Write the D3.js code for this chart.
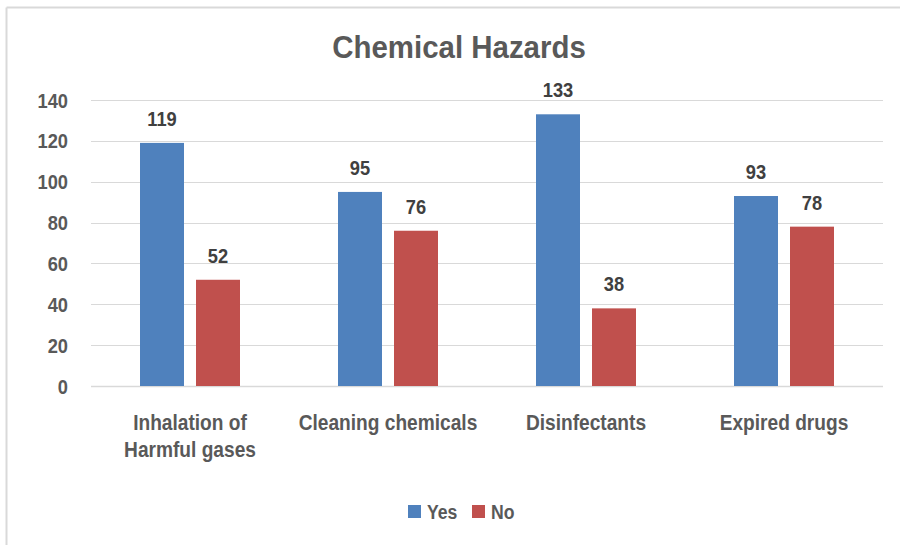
<!DOCTYPE html>
<html>
<head>
<meta charset="utf-8">
<script src="https://cdn.jsdelivr.net/npm/d3@7"></script>
<style>
  body { margin: 0; background: #fff; }
  svg { display: block; font-family: "Liberation Sans", Arial, sans-serif; font-weight: bold; }
</style>
</head>
<body>
<svg id="chart"></svg>
<script>
const width = 900;
const height = 545;

// chart data
const categories = ["Inhalation of|Harmful gases", "Cleaning chemicals", "Disinfectants", "Expired drugs"];
const seriesNames = ["Yes", "No"];
const yesValues = [119, 95, 133, 93];
const noValues = [52, 76, 38, 78];
const yTicks = [0, 20, 40, 60, 80, 100, 120, 140];
const seriesColors = ["#4F81BD", "#C0504D"];

const margin = { left: 91, right: 17, top: 100, bottom: 159 };
const narrow = 0.87; // squeeze text to look like the condensed office font

const svg = d3.select("#chart")
    .attr("width", width)
    .attr("height", height);

// chart area border (only top and left show in the crop)
svg.append("line")
    .attr("x1", 6.5).attr("x2", width)
    .attr("y1", 7.5).attr("y2", 7.5)
    .attr("stroke", "#d9d9d9").attr("stroke-width", 2);
svg.append("line")
    .attr("x1", 6.5).attr("x2", 6.5)
    .attr("y1", 7.5).attr("y2", height)
    .attr("stroke", "#d9d9d9").attr("stroke-width", 2);

const x = d3.scaleBand()
    .domain(categories)
    .range([margin.left, width - margin.right]);

const y = d3.scaleLinear()
    .domain([0, 140])
    .range([height - margin.bottom, margin.top]);

const barWidth = 44;
const barGap = 12;

const place = (px, py, sx) => `translate(${px},${py}) scale(${sx},1)`;

// gridlines
svg.append("g")
    .selectAll("line")
    .data(yTicks)
    .join("line")
    .attr("x1", margin.left)
    .attr("x2", width - margin.right)
    .attr("y1", d => Math.round(y(d)) + 0.5)
    .attr("y2", d => Math.round(y(d)) + 0.5)
    .attr("stroke", "#d9d9d9")
    .attr("stroke-width", d => d === 0 ? 1.5 : 1.2);

// y tick labels
svg.append("g")
    .selectAll("text")
    .data(yTicks)
    .join("text")
    .attr("transform", d => place(68, y(d) + 7.5, narrow))
    .attr("text-anchor", "end")
    .attr("font-size", 21)
    .attr("fill", "#595959")
    .text(d => d);

// bars
const series = [yesValues, noValues];
series.forEach((vals, si) => {
    const offset = si === 0 ? -(barGap / 2 + barWidth) : barGap / 2;
    const g = svg.append("g");
    g.selectAll("rect")
        .data(vals)
        .join("rect")
        .attr("x", (d, i) => x(categories[i]) + x.bandwidth() / 2 + offset)
        .attr("y", d => y(d))
        .attr("width", barWidth)
        .attr("height", d => y(0) - y(d))
        .attr("fill", seriesColors[si]);

    g.selectAll("text")
        .data(vals)
        .join("text")
        .attr("transform", (d, i) => place(x(categories[i]) + x.bandwidth() / 2 + offset + barWidth / 2, y(d) - 17, narrow))
        .attr("text-anchor", "middle")
        .attr("font-size", 21)
        .attr("fill", "#404040")
        .text(d => d);
});

// category labels
svg.append("g")
    .selectAll("text")
    .data(categories)
    .join("text")
    .attr("transform", d => place(x(d) + x.bandwidth() / 2, 430, narrow))
    .attr("text-anchor", "middle")
    .attr("font-size", 22)
    .attr("fill", "#595959")
    .each(function(d) {
        d3.select(this).selectAll("tspan")
            .data(d.split("|"))
            .join("tspan")
            .attr("x", 0)
            .attr("dy", (l, i) => i === 0 ? 0 : 27)
            .text(l => l);
    });

// title
svg.append("text")
    .attr("transform", place(459, 58, 0.92))
    .attr("text-anchor", "middle")
    .attr("font-size", 32)
    .attr("fill", "#595959")
    .text("Chemical Hazards");

// legend
const legendX = [408, 472];
const legend = svg.append("g")
    .selectAll("g")
    .data(seriesNames)
    .join("g")
    .attr("transform", (d, i) => `translate(${legendX[i]},505)`);

legend.append("rect")
    .attr("width", 13)
    .attr("height", 13)
    .attr("fill", (d, i) => seriesColors[i]);

legend.append("text")
    .attr("transform", place(19, 13.5, 0.84))
    .attr("font-size", 21)
    .attr("fill", "#595959")
    .text(d => d);
</script>
</body>
</html>
